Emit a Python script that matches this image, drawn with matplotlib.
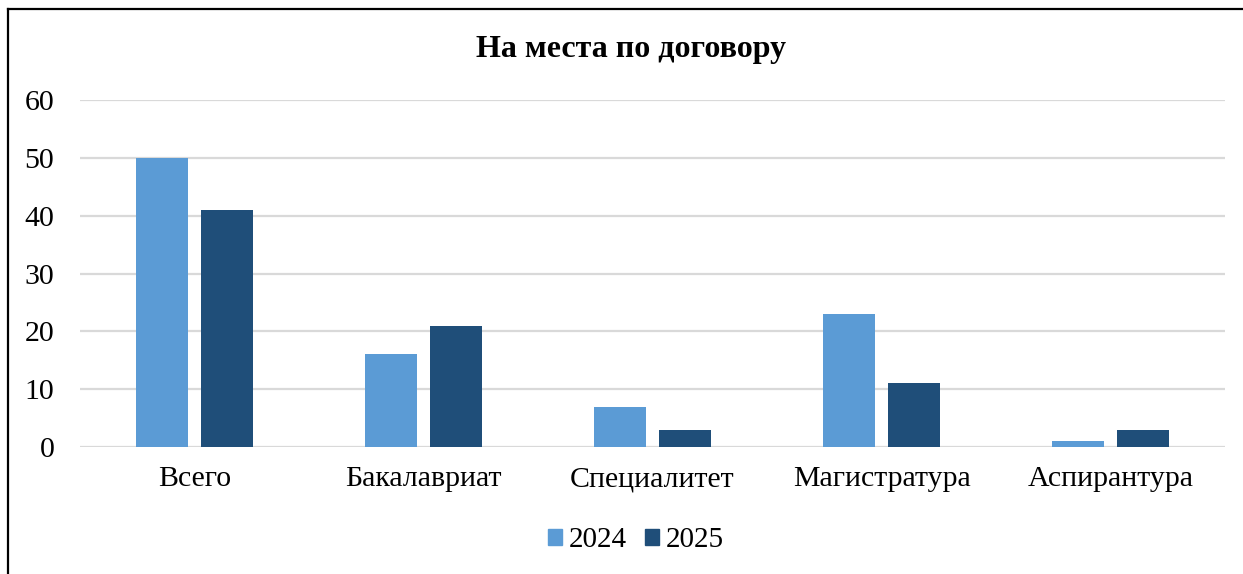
import numpy as np
import matplotlib.pyplot as plt
from matplotlib.lines import Line2D
from matplotlib.patches import Patch

# Data
categories = ["Всего", "Бакалавриат", "Специалитет", "Магистратура", "Аспирантура"]
values_2024 = [50, 16, 7, 23, 1]
values_2025 = [41, 21, 3, 11, 3]
series_names = ["2024", "2025"]

col_2024 = "#5B9BD5"
col_2025 = "#1F4E79"

plt.rcParams['font.family'] = ['Liberation Serif', 'DejaVu Serif']

W, H = 1243, 574
fig = plt.figure(figsize=(W / 100, H / 100), dpi=100)
ax = fig.add_axes([80 / W, 1 - 447 / H, (1225 - 80) / W, (447 - 100) / H])

x = np.arange(len(categories))
bw = 0.223
off = 0.142
ax.bar(x - off, values_2024, bw, color=col_2024, zorder=3)
ax.bar(x + off, values_2025, bw, color=col_2025, zorder=3)

ax.set_xlim(-0.5, len(categories) - 0.5)
ax.set_ylim(0, 60)
ax.set_yticks(range(0, 61, 10))
ax.yaxis.grid(True, color="#D9D9D9", linewidth=1.6, zorder=0)
ax.set_xticks(x)
ax.set_xticklabels(categories)
ax.tick_params(axis="both", length=0, labelsize=21.5, colors="black")
ax.tick_params(axis="x", pad=14)
ax.tick_params(axis="y", pad=18.5)
for s in ax.spines.values():
    s.set_visible(False)

fig.text(631 / W, 1 - 49 / H, "На места по договору", ha="center", va="center",
         fontsize=23, fontweight="bold")

handles = [Patch(color=col_2024), Patch(color=col_2025)]
fig.legend(handles, series_names, loc="center", bbox_to_anchor=(636 / W, 1 - 540 / H),
           ncol=2, frameon=False, fontsize=21, handlelength=0.48, handleheight=0.48,
           handletextpad=0.22, columnspacing=0.65)

# outer frame of the chart (left and top edges visible)
fig.add_artist(Line2D([8 / W, 8 / W], [0, 1 - 9 / H], color="black", linewidth=1.6,
                      transform=fig.transFigure))
fig.add_artist(Line2D([8 / W, 1], [1 - 9 / H, 1 - 9 / H], color="black", linewidth=1.6,
                      transform=fig.transFigure))

fig.savefig("out.png", dpi=100)
